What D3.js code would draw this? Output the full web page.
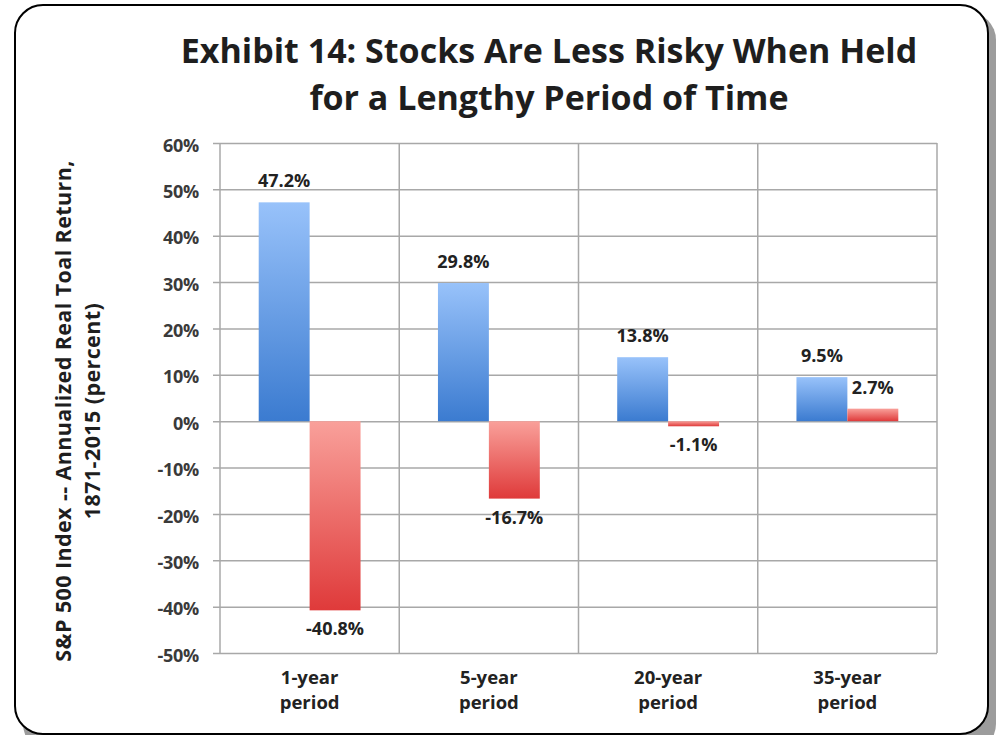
<!DOCTYPE html>
<html>
<head>
<meta charset="utf-8">
<script src="https://cdn.jsdelivr.net/npm/d3@7/dist/d3.min.js"></script>
<style>
  html, body { margin: 0; padding: 0; background: #fff; }
  svg { display: block; }
  text { font-family: "Open Sans", Lato, "DejaVu Sans", sans-serif; font-weight: bold; }
</style>
</head>
<body>
<svg id="chart" width="997" height="735"></svg>
<script>
// ---- data ----
const categories = ["1-year period", "5-year period", "20-year period", "35-year period"];
const categoryLines = [["1-year", "period"], ["5-year", "period"], ["20-year", "period"], ["35-year", "period"]];
const seriesNames = ["Best", "Worst"];
const bestReturns = [47.2, 29.8, 13.8, 9.5];
const worstReturns = [-40.8, -16.7, -1.1, 2.7];
const yTicks = [-50, -40, -30, -20, -10, 0, 10, 20, 30, 40, 50, 60];
const titleLines = ["Exhibit 14: Stocks Are Less Risky When Held", "for a Lengthy Period of Time"];
const yTitleLines = ["S&P 500 Index -- Annualized Real Toal Return,", "1871-2015 (percent)"];

// ---- layout ----
const W = 997, H = 735;
const plot = { left: 220, right: 937, top: 143, bottom: 653 };

const svg = d3.select("#chart");
const defs = svg.append("defs");

function grad(id, top, bottom) {
  const g = defs.append("linearGradient").attr("id", id)
    .attr("x1", 0).attr("y1", 0).attr("x2", 0).attr("y2", 1);
  g.append("stop").attr("offset", "0%").attr("stop-color", top);
  g.append("stop").attr("offset", "100%").attr("stop-color", bottom);
}
grad("gBlue", "#98c2fa", "#3b7bd0");
grad("gRed", "#f9a09a", "#df3a3a");

// frame with shadow
svg.append("rect").attr("x", 23).attr("y", 12).attr("width", 973).attr("height", 740)
  .attr("rx", 28).attr("ry", 28).attr("fill", "#9c9c9c");
svg.append("rect").attr("x", 15).attr("y", 5).attr("width", 973).attr("height", 729)
  .attr("rx", 28).attr("ry", 28).attr("fill", "#fff").attr("stroke", "#000").attr("stroke-width", 2);

// scales
const x0 = d3.scaleBand().domain(categories).range([plot.left, plot.right]).padding(0);
const x1 = d3.scaleBand().domain(seriesNames).range([0, x0.bandwidth()]).paddingInner(0).paddingOuter(0.76);
const y = d3.scaleLinear().domain([-50, 60]).range([plot.bottom, plot.top]);

const gridColor = "#a8a8a8";

// horizontal gridlines + y axis
const yAxis = d3.axisLeft(y).tickValues(yTicks).tickFormat(d => d + "%")
  .tickSize(-(plot.right - plot.left)).tickPadding(14);
const gy = svg.append("g").attr("transform", `translate(${plot.left},0)`).call(yAxis);
gy.select(".domain").remove();
gy.selectAll(".tick line").attr("stroke", gridColor).attr("stroke-width", 1.5)
  .attr("x1", -7);
gy.selectAll(".tick text").attr("fill", "#3a3a3a").attr("font-size", 18)
  .attr("dy", "0.45em").attr("x", -21).attr("letter-spacing", -0.3);

// vertical gridlines at category boundaries
const bounds = [plot.left].concat(categories.map(c => x0(c) + x0.bandwidth()));
svg.append("g").selectAll("line").data(bounds).join("line")
  .attr("x1", d => d).attr("x2", d => d)
  .attr("y1", plot.top).attr("y2", plot.bottom)
  .attr("stroke", gridColor).attr("stroke-width", 1.5);

// x axis labels
const xAxis = d3.axisBottom(x0).tickSize(0).tickFormat("");
const gx = svg.append("g").attr("transform", `translate(0,${plot.bottom})`).call(xAxis);
gx.select(".domain").remove();
gx.selectAll(".tick").each(function(d, i) {
  const t = d3.select(this).append("text").attr("fill", "#222").attr("font-size", 18.5)
    .attr("text-anchor", "middle");
  categoryLines[i].forEach((ln, j) => {
    t.append("tspan").attr("x", 0).attr("y", 31 + j * 25).text(ln);
  });
});

// bars
const rows = categories.map((c, i) => ({ cat: c, vals: [bestReturns[i], worstReturns[i]] }));
const groups = svg.append("g").selectAll("g").data(rows).join("g")
  .attr("transform", d => `translate(${x0(d.cat)},0)`);
groups.selectAll("rect").data(d => d.vals.map((v, k) => ({ s: seriesNames[k], v }))).join("rect")
  .attr("x", d => x1(d.s))
  .attr("width", x1.bandwidth())
  .attr("y", d => y(Math.max(0, d.v)))
  .attr("height", d => Math.abs(y(d.v) - y(0)))
  .attr("fill", d => d.s === "Best" ? "url(#gBlue)" : "url(#gRed)");

// data labels
groups.selectAll("text.lbl").data(d => d.vals.map((v, k) => ({ s: seriesNames[k], v }))).join("text")
  .attr("class", "lbl")
  .attr("x", d => x1(d.s) + x1.bandwidth() / 2)
  .attr("y", d => d.v >= 0 ? y(d.v) - 15 : y(d.v) + 25)
  .attr("text-anchor", "middle")
  .attr("font-size", 18).attr("fill", "#222")
  .text(d => d.v.toFixed(1) + "%");

// title
const title = svg.append("text").attr("font-size", 34).attr("fill", "#1e1e1e").attr("text-anchor", "middle");
title.append("tspan").attr("x", 549).attr("y", 63).text(titleLines[0]);
title.append("tspan").attr("x", 549).attr("y", 110).text(titleLines[1]);

// y axis title
const yt = svg.append("text").attr("font-size", 21.5).attr("fill", "#1e1e1e")
  .attr("letter-spacing", 0.4)
  .attr("text-anchor", "middle").attr("transform", "rotate(-90)");
yt.append("tspan").attr("x", -411).attr("y", 71).text(yTitleLines[0]);
yt.append("tspan").attr("x", -411).attr("y", 100).text(yTitleLines[1]);
</script>
</body>
</html>
